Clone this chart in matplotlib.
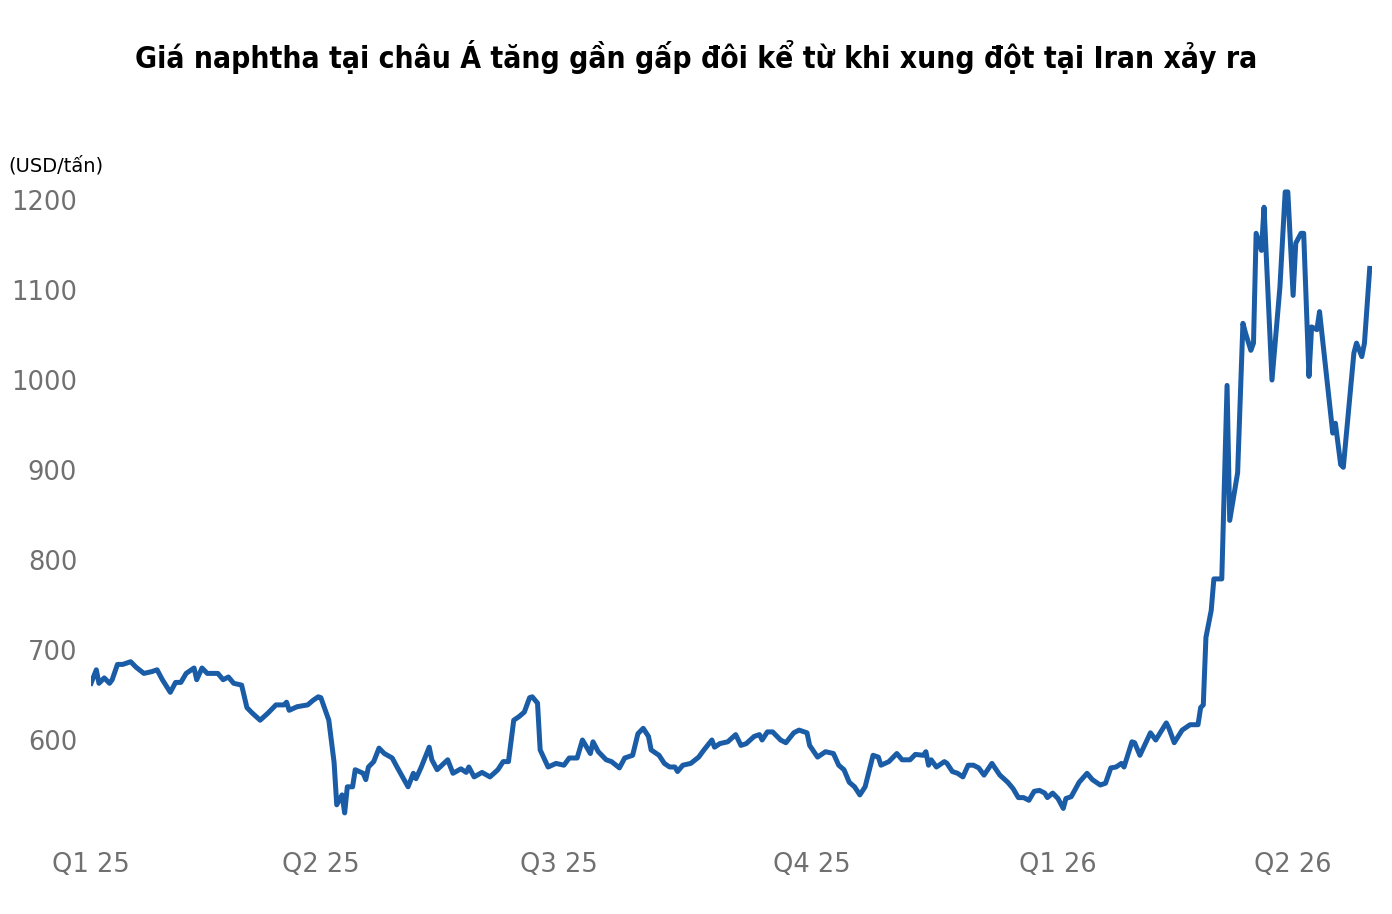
import matplotlib
matplotlib.use('Agg')
import matplotlib.pyplot as plt
import pandas as pd

# days since 2025-01-01 and naphtha price (USD/tấn)
day = [0, 2, 3, 5, 7, 8, 10, 12, 15, 17, 20, 23, 25, 27, 30, 32, 34, 36, 39, 40,
       42, 44, 48, 50, 52, 54, 57, 59, 61, 64, 67, 70, 73, 74, 75, 78, 82, 84, 86, 87,
       90, 92, 93, 95, 96, 97, 99, 100, 103, 104, 105, 107, 109, 111, 114, 116, 120, 122, 123, 125,
       128, 129, 131, 135, 137, 140, 142, 143, 145, 148, 151, 154, 156, 158, 160, 162, 164, 166, 167, 169,
       170, 173, 176, 179, 181, 184, 186, 189, 190, 192, 195, 197, 200, 202, 205, 207, 209, 211, 212, 215,
       217, 219, 221, 222, 224, 227, 230, 232, 235, 236, 238, 241, 244, 246, 248, 251, 253, 254, 256, 258,
       261, 263, 266, 268, 271, 272, 275, 278, 281, 283, 285, 287, 289, 291, 293, 296, 298, 299, 302, 305,
       307, 310, 312, 315, 316, 317, 318, 320, 323, 324, 326, 328, 330, 332, 334, 336, 338, 341, 344, 347,
       349, 351, 353, 355, 357, 359, 361, 362, 364, 366, 368, 369, 371, 374, 377, 379, 382, 384, 386, 388,
       390, 391, 394, 395, 397, 401, 403, 407, 408, 410, 413, 416, 419, 420, 421, 422, 424, 425, 428, 430,
       431, 434, 436, 437, 439, 440, 441, 443, 444, 447, 450, 452, 453, 455, 456, 458, 459, 461, 462, 464,
       465, 470, 471, 473, 474, 478, 479, 481, 482, 484]
price = [663, 678, 663, 669, 663, 667, 684, 684, 687, 681, 674, 676, 678, 667, 653, 664, 664, 674, 680, 667,
         680, 674, 674, 667, 670, 663, 661, 636, 630, 622, 630, 639, 639, 642, 633, 637, 639, 644, 648, 647,
         622, 575, 528, 539, 519, 548, 548, 567, 563, 556, 570, 576, 591, 585, 580, 569, 548, 563, 557, 570,
         592, 578, 567, 578, 563, 568, 564, 570, 559, 564, 559, 567, 576, 576, 622, 626, 631, 647, 648, 641,
         589, 570, 574, 572, 580, 580, 600, 585, 598, 587, 578, 576, 569, 580, 583, 607, 613, 604, 589, 583,
         574, 570, 570, 565, 572, 574, 581, 589, 600, 592, 596, 598, 606, 594, 596, 604, 606, 600, 609, 609,
         600, 597, 608, 611, 608, 594, 581, 587, 585, 572, 567, 553, 548, 539, 548, 583, 581, 572, 576, 585,
         578, 578, 584, 583, 587, 572, 578, 570, 576, 574, 565, 563, 559, 572, 572, 569, 561, 574, 561, 553,
         546, 536, 536, 533, 543, 544, 541, 536, 541, 535, 524, 535, 537, 553, 563, 556, 550, 552, 569, 570,
         574, 570, 598, 597, 583, 608, 600, 619, 613, 597, 611, 617, 617, 636, 639, 714, 744, 779, 779, 994,
         844, 897, 1063, 1052, 1033, 1041, 1163, 1144, 1192, 1000, 1103, 1209, 1209, 1094, 1152, 1163, 1163, 1004, 1059, 1056,
         1076, 941, 952, 906, 903, 1030, 1041, 1026, 1041, 1124]

tick_dates = ['2025-01-01', '2025-03-29', '2025-06-27', '2025-10-01', '2026-01-02', '2026-04-01']
tick_labels = ['Q1 25', 'Q2 25', 'Q3 25', 'Q4 25', 'Q1 26', 'Q2 26']
y_ticks = [600, 700, 800, 900, 1000, 1100, 1200]

start = pd.Timestamp('2025-01-01')
dates = start + pd.to_timedelta(day, unit='D')

fig = plt.figure(figsize=(13.92, 9.14), dpi=100)
ax = fig.add_axes([0.0654, 0.0919, 0.9205, 0.7188])
ax.plot(dates, price, color='#1a5da6', linewidth=3.6, solid_joinstyle='round')

ax.set_xlim(start, start + pd.Timedelta(days=485))
ax.set_ylim(500, 1230)
ax.set_yticks(y_ticks)
ax.set_xticks(pd.to_datetime(tick_dates))
ax.set_xticklabels(tick_labels)
for s in ax.spines.values():
    s.set_visible(False)
ax.tick_params(axis='y', length=0, pad=10, labelsize=18.5, labelcolor='#707070')
ax.tick_params(axis='x', length=0, pad=16, labelsize=18.5, labelcolor='#707070')

fig.text(0.5, 1 - 57 / 914, 'Giá naphtha tại châu Á tăng gần gấp đôi kể từ khi xung đột tại Iran xảy ra',
         ha='center', va='center', fontsize=21.5, fontweight='bold', fontstretch='condensed',
         family='DejaVu Sans', color='black')
fig.text(8 / 1392, 1 - 166 / 914, '(USD/tấn)', ha='left', va='center', fontsize=14, color='black')

fig.savefig('out.png', dpi=100, facecolor='white')
